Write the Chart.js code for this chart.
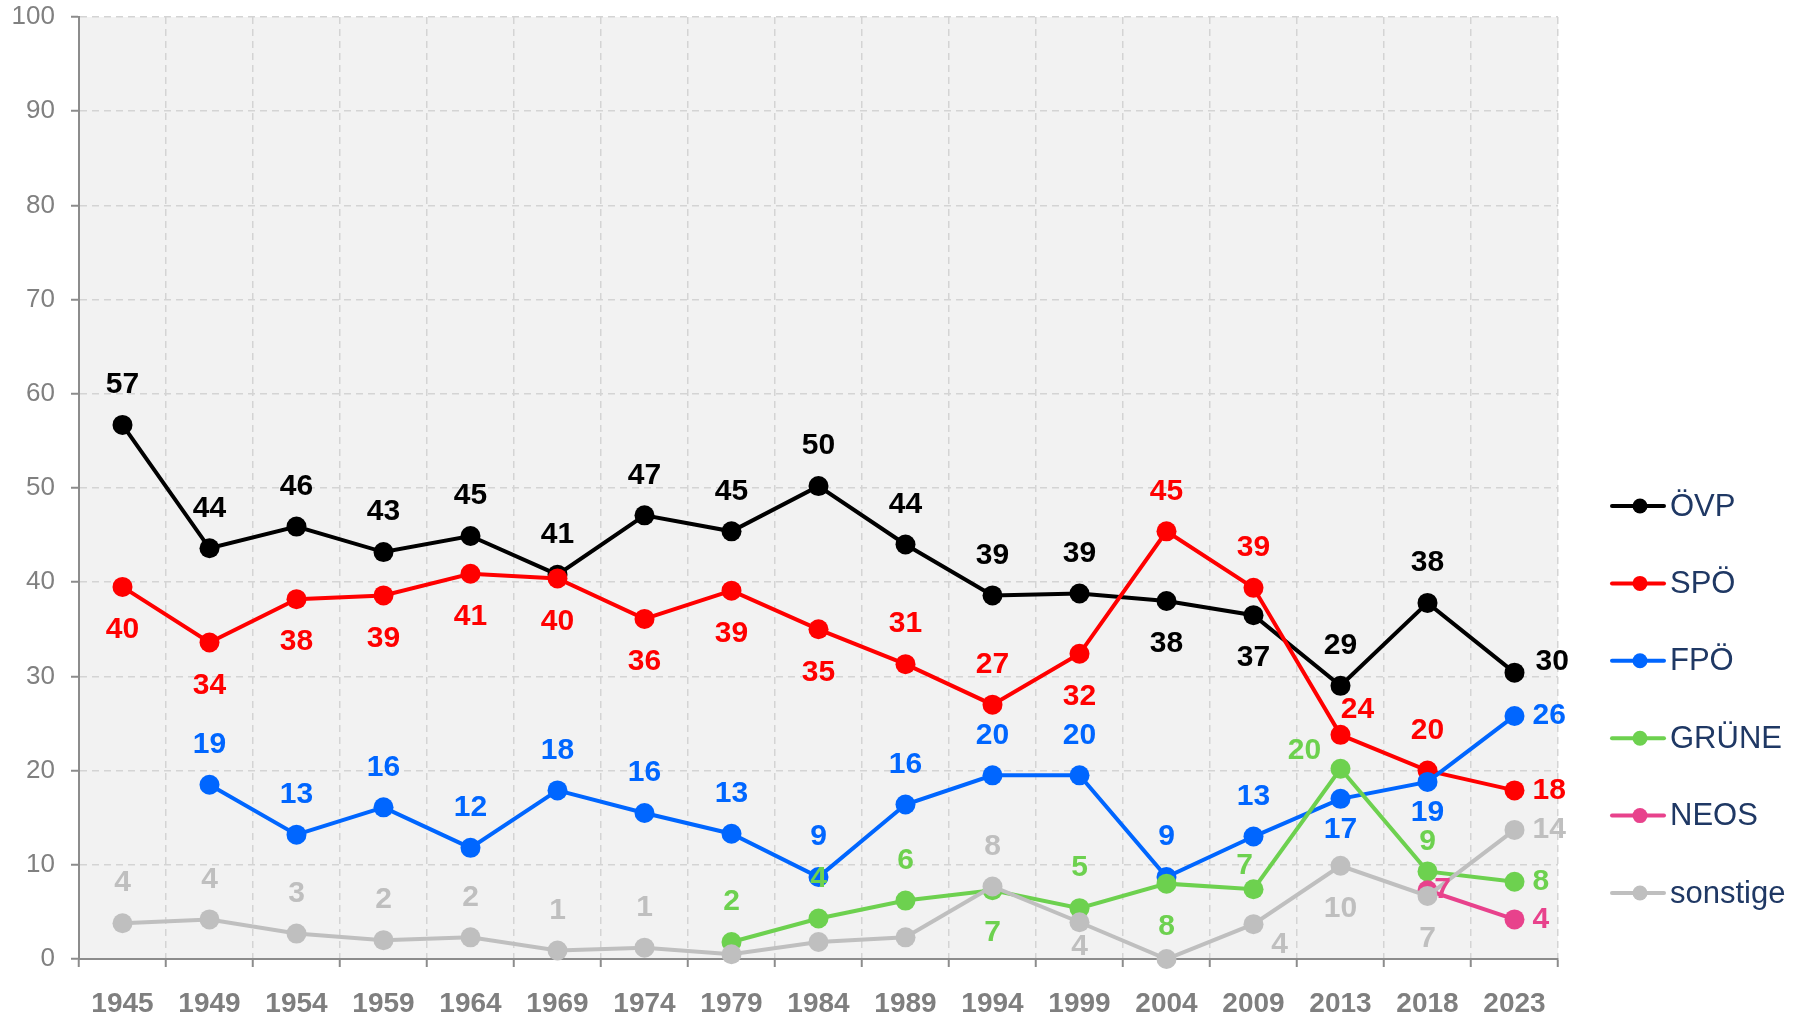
<!DOCTYPE html>
<html>
<head>
<meta charset="utf-8">
<script src="https://cdn.jsdelivr.net/npm/chart.js@4.4.1/dist/chart.umd.min.js"></script>
<style>
  html, body { margin: 0; padding: 0; background: #fff; }
  #wrap { width: 1800px; height: 1014px; position: relative; }
</style>
</head>
<body>
<div id="wrap"><canvas id="chart"></canvas></div>
<script>
      // Wahlergebnisse in Prozent
      const years = ["1945", "1949", "1954", "1959", "1964", "1969", "1974", "1979", "1984",
        "1989", "1994", "1999", "2004", "2009", "2013", "2018", "2023"];
      const ovp = [56.7, 43.6, 45.9, 43.2, 44.9, 40.8, 47.1, 45.4, 50.2, 44.0, 38.6, 38.8, 38.0, 36.5, 29.0, 37.8, 30.4];
      const spo = [39.5, 33.6, 38.2, 38.6, 40.9, 40.4, 36.1, 39.1, 35.0, 31.3, 27.0, 32.4, 45.4, 39.4, 23.8, 20.0, 17.9];
      const fpo = [null, 18.5, 13.2, 16.1, 11.8, 17.9, 15.5, 13.3, 8.7, 16.4, 19.5, 19.5, 8.7, 13.0, 17.0, 18.8, 25.8];
      const gruene = [null, null, null, null, null, null, null, 1.8, 4.3, 6.2, 7.3, 5.4, 8.0, 7.4, 20.2, 9.3, 8.2];
      const neos = [null, null, null, null, null, null, null, null, null, null, null, null, null, null, null, 7.3, 4.2];
      const sonstige = [3.8, 4.2, 2.7, 2.0, 2.3, 0.9, 1.2, 0.5, 1.8, 2.3, 7.7, 3.9, 0.0, 3.7, 9.9, 6.7, 13.7];
      const yTicks = [0, 10, 20, 30, 40, 50, 60, 70, 80, 90, 100];

      // where each value label sits relative to its point ("" = no label)
      const ovpPos = ["a", "a", "a", "a", "a", "a", "a", "a", "a", "a", "a", "a", "b", "b", "a", "a", "ru"];
      const spoPos = ["b", "b", "b", "b", "b", "b", "b", "b", "b", "a", "a", "b", "a", "a", "ar", "a", "r"];
      const fpoPos = ["", "a", "a", "a", "a", "a", "a", "a", "a", "a", "a", "a", "a", "a", "b1", "b1", "r"];
      const gruenePos = ["", "", "", "", "", "", "", "a", "a", "a", "b", "a", "b", "al2", "al", "a2", "r"];
      const neosPos = ["", "", "", "", "", "", "", "", "", "", "", "", "", "", "", "rr", "r"];
      const sonstigePos = ["a", "a", "a", "a", "a", "a", "a", "", "", "", "a", "b2", "", "br", "b", "b", "r"];

      const offsets = {
        a: [0, -40, "center"], a2: [0, -30, "center"],
        b: [0, 43, "center"], b1: [0, 31, "center"], b2: [0, 24, "center"],
        r: [18, 0, "left"], ru: [21, -11, "left"],
        ar: [17, -25, "center"], al: [-36, -18, "center"], al2: [-9, -24, "center"],
        br: [26, 21, "center"], rr: [15, 0, "center"],
      };

      Chart.defaults.font.family = "'Liberation Sans', Arial, sans-serif";

      const mk = (label, data, color, pos, order) => ({
        label: label,
        data: data,
        borderColor: color,
        backgroundColor: color,
        pointBackgroundColor: color,
        pointBorderWidth: 0,
        pointRadius: 10,
        pointHoverRadius: 10,
        borderWidth: 4,
        tension: 0,
        clip: false,
        order: order,
        labelPos: pos,
      });

      // grey plot background
      const plotBg = {
        id: "plotBg",
        beforeDraw(chart) {
          const { ctx, chartArea: a } = chart;
          ctx.save();
          ctx.fillStyle = "#F2F2F2";
          ctx.fillRect(a.left, a.top, a.right - a.left, a.bottom - a.top);
          ctx.restore();
        },
      };

      // value labels next to the points
      const valueLabels = {
        id: "valueLabels",
        afterDatasetsDraw(chart) {
          const ctx = chart.ctx;
          ctx.save();
          ctx.font = "bold 30px 'Liberation Sans', Arial, sans-serif";
          ctx.textBaseline = "middle";
          chart.data.datasets.forEach((ds, i) => {
            const meta = chart.getDatasetMeta(i);
            meta.data.forEach((pt, j) => {
              const v = ds.data[j];
              const code = ds.labelPos[j];
              if (v === null || !code) return;
              const o = offsets[code];
              ctx.fillStyle = ds.borderColor;
              ctx.textAlign = o[2];
              ctx.fillText(String(Math.round(v)), pt.x + o[0], pt.y + o[1]);
            });
          });
          ctx.restore();
        },
      };

      // legend on the right: line + point + name
      const sideLegend = {
        id: "sideLegend",
        afterDraw(chart) {
          const ctx = chart.ctx;
          ctx.save();
          chart.data.datasets.forEach((ds, i) => {
            const y = 506 + i * 77.4;
            ctx.strokeStyle = ds.borderColor;
            ctx.lineWidth = 4;
            ctx.lineCap = "round";
            ctx.beginPath();
            ctx.moveTo(1612, y);
            ctx.lineTo(1664, y);
            ctx.stroke();
            ctx.fillStyle = ds.borderColor;
            ctx.beginPath();
            ctx.arc(1640, y, 7.5, 0, Math.PI * 2);
            ctx.fill();
            ctx.fillStyle = "#1F3864";
            ctx.font = "31px 'Liberation Sans', Arial, sans-serif";
            ctx.textAlign = "left";
            ctx.textBaseline = "middle";
            ctx.fillText(ds.label, 1670, y + 1);
          });
          ctx.restore();
        },
      };

      const ctx = document.getElementById("chart").getContext("2d");
      const chart = new Chart(ctx, {
        type: "line",
        data: {
          labels: years,
          datasets: [
            mk("ÖVP", ovp, "#000000", ovpPos, 6),
            mk("SPÖ", spo, "#FF0000", spoPos, 5),
            mk("FPÖ", fpo, "#0066FF", fpoPos, 4),
            mk("GRÜNE", gruene, "#6DD14F", gruenePos, 3),
            mk("NEOS", neos, "#E8428C", neosPos, 2),
            mk("sonstige", sonstige, "#BFBFBF", sonstigePos, 1),
          ],
        },
        options: {
          responsive: true,
          maintainAspectRatio: false,
          animation: false,
          layout: { padding: { top: 17, right: 242, bottom: 0, left: 0 } },
          plugins: {
            legend: { display: false },
            tooltip: { enabled: false },
          },
          scales: {
            x: {
              offset: true,
              grid: {
                offset: true,
                color: "#D4D4D4",
                lineWidth: 1.5,
                tickColor: "#8C8C8C",
                tickWidth: 2,
                tickLength: 8,
              },
              border: { color: "#8C8C8C", width: 2, dash: [7, 5] },
              ticks: {
                color: "#7F7F7F",
                font: { size: 28, weight: "bold" },
                padding: 20,
                maxRotation: 0,
                autoSkip: false,
              },
              afterFit: (s) => { s.height = 55; },
            },
            y: {
              min: 0,
              max: 100,
              afterBuildTicks: (s) => { s.ticks = yTicks.map((v) => ({ value: v })); },
              grid: {
                color: "#D4D4D4",
                lineWidth: 1.5,
                tickColor: "#8C8C8C",
                tickWidth: 2,
                tickLength: 8,
              },
              border: { color: "#8C8C8C", width: 2, dash: [7, 5] },
              ticks: {
                color: "#808080",
                font: { size: 26 },
                padding: 16,
              },
              afterFit: (s) => {
                s.width = 79;
                s.paddingTop = 0;
                s.paddingBottom = 0;
              },
            },
          },
        },
        plugins: [plotBg, valueLabels, sideLegend],
      });
</script>
</body>
</html>
